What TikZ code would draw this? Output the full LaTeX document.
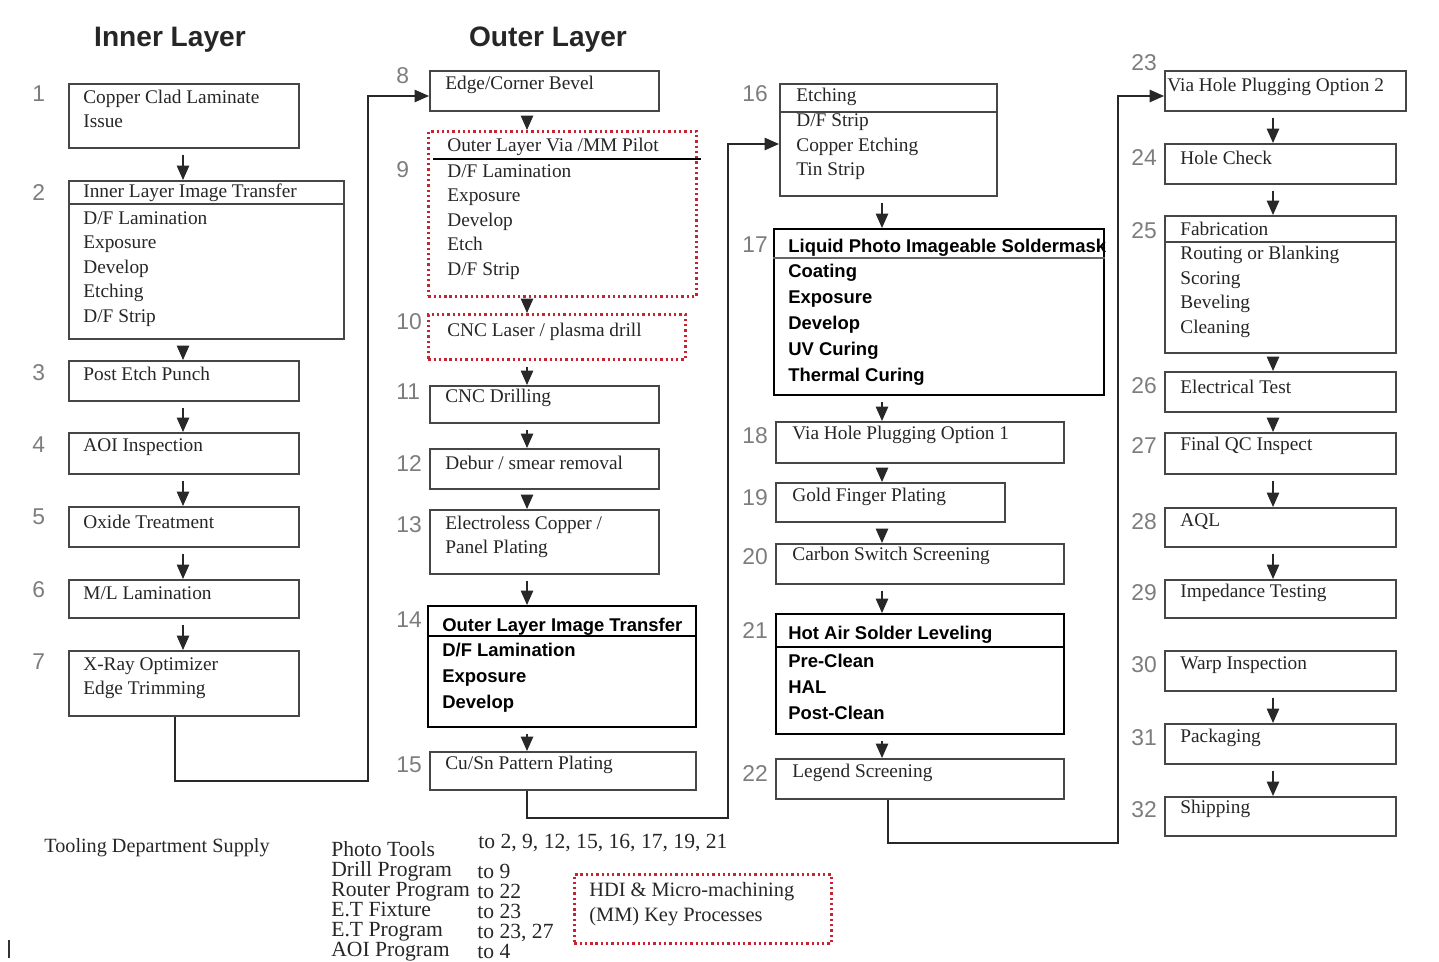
\documentclass[tikz,border=0pt]{standalone}
\usepackage{fontspec}
\setmainfont{Liberation Serif}
\setsansfont{Liberation Sans}
\definecolor{boxgray}{RGB}{70,70,70}
\definecolor{linegray}{RGB}{40,40,40}
\definecolor{numgray}{RGB}{125,125,125}
\definecolor{mmred}{RGB}{200,35,50}
\usetikzlibrary{arrows.meta}

\begin{document}
\begin{tikzpicture}[x=0.02cm,y=-0.02cm,
box/.style={draw=boxgray,line width=0.95pt,anchor=north west,inner sep=0pt},
boldbox/.style={box,draw=black,line width=1.3pt},
mmbox/.style={box,draw=mmred,line width=1.6pt,dash pattern=on 1.3pt off 1.7pt},
txt/.style={anchor=west,inner sep=0pt,align=left,text=black!85,font=\fontsize{11}{13.9}\selectfont},
btxt/.style={txt,text=black,font=\sffamily\bfseries\fontsize{10.5}{14.8}\selectfont},
num/.style={anchor=west,inner sep=0pt,text=numgray,font=\sffamily\fontsize{13}{15}\selectfont},
title/.style={inner sep=0pt,text=black!85,font=\sffamily\bfseries\fontsize{16}{18}\selectfont},
list/.style={anchor=west,inner sep=0pt,align=left,text=black!85,font=\fontsize{12.3}{11.4}\selectfont},
hline/.style={draw=boxgray,line width=0.8pt},
arrow/.style={-{Triangle[length=2.9mm,width=2.5mm]},line width=0.8pt,draw=linegray,shorten <=1.2mm},
link/.style={arrow,shorten <=0pt}]
\useasboundingbox (0,0) rectangle (1439,961);

\node[title] (inner) at (170,40) {Inner Layer};
\node[title] (outer) at (548,40) {Outer Layer};

% inner layer
\node[box,minimum width=4.60cm,minimum height=1.28cm] (s1) at (68,83) {};
\node[box,minimum width=5.50cm,minimum height=3.16cm] (s2) at (68,180) {};
\node[box,minimum width=4.60cm,minimum height=0.80cm] (s3) at (68,360) {};
\node[box,minimum width=4.60cm,minimum height=0.82cm] (s4) at (68,432) {};
\node[box,minimum width=4.60cm,minimum height=0.80cm] (s5) at (68,506) {};
\node[box,minimum width=4.60cm,minimum height=0.76cm] (s6) at (68,579) {};
\node[box,minimum width=4.60cm,minimum height=1.30cm] (s7) at (68,650) {};
\draw[hline] ([yshift=-0.48cm]s2.north west) -- ([yshift=-0.48cm]s2.north east);
\node[txt] (t1) at (83,109) {Copper Clad Laminate\\Issue};
\node[txt] (th2) at (83,193) {Inner Layer Image Transfer};
\node[txt] (t2) at (83,269) {D/F Lamination\\Exposure\\Develop\\Etching\\D/F Strip};
\node[txt] (t3) at (83,374) {Post Etch Punch};
\node[txt] (t4) at (83,447) {AOI Inspection};
\node[txt] (t5) at (83,522) {Oxide Treatment};
\node[txt] (t6) at (83,593) {M/L Lamination};
\node[txt] (t7) at (83,678) {X-Ray Optimizer\\Edge Trimming};

% outer layer
\node[box,minimum width=4.58cm,minimum height=0.80cm] (s8) at (429,70) {};
\node[mmbox,minimum width=5.36cm,minimum height=3.30cm] (s9) at (427,130) {};
\node[mmbox,minimum width=5.14cm,minimum height=0.90cm] (s10) at (427,313) {};
\node[box,minimum width=4.58cm,minimum height=0.74cm] (s11) at (429,385) {};
\node[box,minimum width=4.58cm,minimum height=0.80cm] (s12) at (429,448) {};
\node[box,minimum width=4.58cm,minimum height=1.28cm] (s13) at (429,509) {};
\node[boldbox,minimum width=5.36cm,minimum height=2.42cm] (s14) at (427,605) {};
\node[box,minimum width=5.32cm,minimum height=0.76cm] (s15) at (429,751) {};
\draw[hline,draw=black] ([xshift=0.12cm,yshift=-0.58cm]s9.north west) -- ([xshift=0.06cm,yshift=-0.58cm]s9.north east);
\draw[hline,draw=black,line width=1.1pt] ([yshift=-0.62cm]s14.north west) -- ([yshift=-0.62cm]s14.north east);
\node[txt] (t8) at (445,85) {Edge/Corner Bevel};
\node[txt] (th9) at (447,147) {Outer Layer Via /MM Pilot};
\node[txt] (t9) at (447,222) {D/F Lamination\\Exposure\\Develop\\Etch\\D/F Strip};
\node[txt] (t10) at (447,332) {CNC Laser / plasma drill};
\node[txt] (t11) at (445,398) {CNC Drilling};
\node[txt] (t12) at (445,463) {Debur / smear removal};
\node[txt] (t13) at (445,537) {Electroless Copper /\\Panel Plating};
\node[btxt] (th14) at (442,627) {Outer Layer Image Transfer};
\node[btxt] (t14) at (442,678) {D/F Lamination\\Exposure\\Develop};
\node[txt] (t15) at (445,765) {Cu/Sn Pattern Plating};

% finishing
\node[box,minimum width=4.34cm,minimum height=2.24cm] (s16) at (779,83) {};
\node[boldbox,minimum width=6.60cm,minimum height=3.32cm] (s17) at (773,228) {};
\node[box,minimum width=5.76cm,minimum height=0.82cm] (s18) at (775,421) {};
\node[box,minimum width=4.58cm,minimum height=0.78cm] (s19) at (775,482) {};
\node[box,minimum width=5.76cm,minimum height=0.80cm] (s20) at (775,543) {};
\node[boldbox,minimum width=5.76cm,minimum height=2.40cm] (s21) at (775,613) {};
\node[box,minimum width=5.76cm,minimum height=0.80cm] (s22) at (775,758) {};
\draw[hline] ([yshift=-0.58cm]s16.north west) -- ([yshift=-0.58cm]s16.north east);
\draw[hline,line width=0.6pt,draw=black!60] ([yshift=-0.60cm]s17.north west) -- ([yshift=-0.60cm]s17.north east);
\draw[hline,draw=black] ([yshift=-0.68cm]s21.north west) -- ([yshift=-0.68cm]s21.north east);
\node[txt] (th16) at (796,97) {Etching};
\node[txt] (t16) at (796,147) {D/F Strip\\Copper Etching\\Tin Strip};
\node[btxt] (th17) at (788,248) {Liquid Photo Imageable Soldermask};
\node[btxt] (t17) at (788,325) {Coating\\Exposure\\Develop\\UV Curing\\Thermal Curing};
\node[txt] (t18) at (792,435) {Via Hole Plugging Option 1};
\node[txt] (t19) at (792,497) {Gold Finger Plating};
\node[txt] (t20) at (792,556) {Carbon Switch Screening};
\node[btxt] (th21) at (788,635) {Hot Air Solder Leveling};
\node[btxt] (t21) at (788,687) {Pre-Clean\\HAL\\Post-Clean};
\node[txt] (t22) at (792,773) {Legend Screening};

% final steps
\node[box,minimum width=4.82cm,minimum height=0.80cm] (s23) at (1164,70) {};
\node[box,minimum width=4.62cm,minimum height=0.80cm] (s24) at (1164,143) {};
\node[box,minimum width=4.62cm,minimum height=2.74cm] (s25) at (1164,215) {};
\node[box,minimum width=4.62cm,minimum height=0.80cm] (s26) at (1164,371) {};
\node[box,minimum width=4.62cm,minimum height=0.82cm] (s27) at (1164,432) {};
\node[box,minimum width=4.62cm,minimum height=0.78cm] (s28) at (1164,507) {};
\node[box,minimum width=4.62cm,minimum height=0.76cm] (s29) at (1164,579) {};
\node[box,minimum width=4.62cm,minimum height=0.80cm] (s30) at (1164,650) {};
\node[box,minimum width=4.62cm,minimum height=0.80cm] (s31) at (1164,723) {};
\node[box,minimum width=4.62cm,minimum height=0.78cm] (s32) at (1164,796) {};
\draw[hline] ([yshift=-0.54cm]s25.north west) -- ([yshift=-0.54cm]s25.north east);
\node[txt] (t23) at (1167,87) {Via Hole Plugging Option 2};
\node[txt] (t24) at (1180,158) {Hole Check};
\node[txt] (th25) at (1180,229) {Fabrication};
\node[txt] (t25) at (1180,292) {Routing or Blanking\\Scoring\\Beveling\\Cleaning};
\node[txt] (t26) at (1180,387) {Electrical Test};
\node[txt] (t27) at (1180,446) {Final QC Inspect};
\node[txt] (t28) at (1180,522) {AQL};
\node[txt] (t29) at (1180,593) {Impedance Testing};
\node[txt] (t30) at (1180,665) {Warp Inspection};
\node[txt] (t31) at (1180,738) {Packaging};
\node[txt] (t32) at (1180,809) {Shipping};

\foreach \k/\x/\y in {1/32/94,2/32/193,3/32/373,4/32/445,5/32/517,6/32/590,7/32/662,
  8/396/76,9/396/170,10/396/322,11/396/392,12/396/464,13/396/525,14/396/620,15/396/765,
  16/742/94,17/742/245,18/742/436,19/742/498,20/742/557,21/742/631,22/742/774,
  23/1131/63,24/1131/158,25/1131/231,26/1131/386,27/1131/446,28/1131/522,29/1131/593,
  30/1131/665,31/1131/738,32/1131/810}
  \node[num] (n\k) at (\x,\y) {\k};

% flow arrows
\coordinate (a1) at (183,0); \coordinate (a2) at (527,0);
\coordinate (a3) at (882,0); \coordinate (a4) at (1273,0);
\foreach \u/\v/\c in {s1/s2/a1,s2/s3/a1,s3/s4/a1,s4/s5/a1,s5/s6/a1,s6/s7/a1,
  s8/s9/a2,s9/s10/a2,s10/s11/a2,s11/s12/a2,s12/s13/a2,s13/s14/a2,s14/s15/a2,
  s16/s17/a3,s17/s18/a3,s18/s19/a3,s19/s20/a3,s20/s21/a3,s21/s22/a3,
  s23/s24/a4,s24/s25/a4,s25/s26/a4,s26/s27/a4,s27/s28/a4,s28/s29/a4,s30/s31/a4,s31/s32/a4}
  \draw[arrow] (\u.south -| \c) -- (\v.north -| \c);

\coordinate (k7) at (175,781); \coordinate (k8) at (368,781); \coordinate (k8t) at (368,96);
\draw[link] (s7.south -| k7) -- (k7) -- (k8) -- (k8t) -- (s8.west |- k8t);
\coordinate (k15) at (527,818); \coordinate (k16) at (728,818); \coordinate (k16t) at (728,144);
\draw[link] (s15.south -| k15) -- (k15) -- (k16) -- (k16t) -- (s16.west |- k16t);
\coordinate (k22) at (888,843); \coordinate (k23) at (1118,843); \coordinate (k23t) at (1118,96);
\draw[link] (s22.south -| k22) -- (k22) -- (k23) -- (k23t) -- (s23.west |- k23t);

% tooling supply
\node[txt,font=\fontsize{11.5}{14}\selectfont] (tooling) at (44,848) {Tooling Department Supply};
\node[list] (tools) at (331,901) {Photo Tools\\Drill Program\\Router Program\\E.T Fixture\\E.T Program\\AOI Program};
\node[list] (dest1) at (478,843) {to 2, 9, 12, 15, 16, 17, 19, 21};
\node[list] (dests) at (477,911) {to 9\\to 22\\to 23\\to 23, 27\\to 4};
\node[mmbox,minimum width=5.14cm,minimum height=1.38cm] (hdi) at (573,873) {};
\node[txt,font=\fontsize{11.6}{14.2}\selectfont] (hdit) at (589,904) {HDI \& Micro-machining\\(MM) Key Processes};
\draw[line width=0.8pt,draw=black!80] (9,940) -- (9,958);
\end{tikzpicture}
\end{document}
